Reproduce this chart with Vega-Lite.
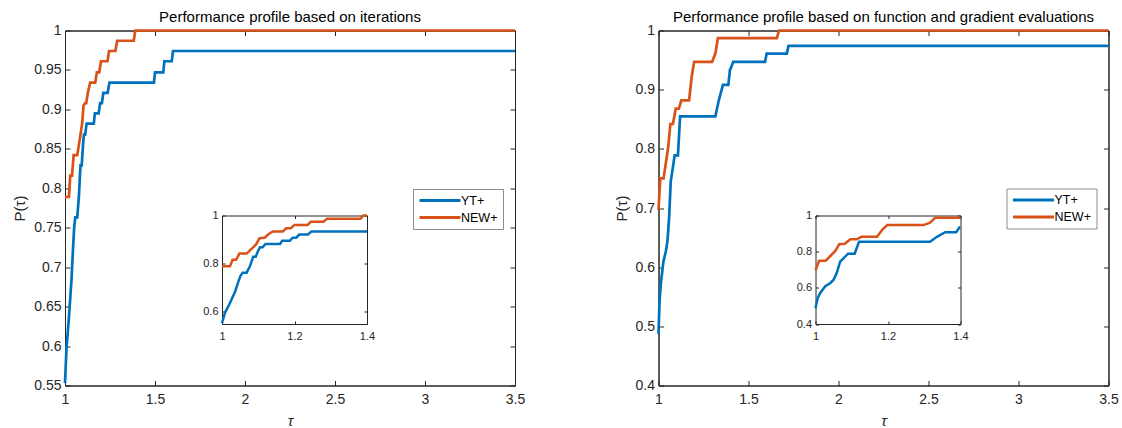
{
  "$schema": "https://vega.github.io/schema/vega-lite/v6.json",
  "padding": {"left": 12, "top": 8.5, "right": 5, "bottom": 2},
  "background": "white",
  "config": {
    "font": "Liberation Sans",
    "view": {"stroke": "#262626", "strokeWidth": 1},
    "axis": {"grid": false, "labelFont": "Liberation Sans", "labelFontSize": 14, "labelColor": "#262626", "domainColor": "#262626", "tickColor": "#262626", "tickSize": -5, "titleFontSize": 15, "titleFontWeight": "normal", "titleColor": "#262626", "labelFlush": false, "labelOverlap": false},
    "title": {"fontSize": 15, "fontWeight": "normal", "color": "#000000", "offset": -1, "font": "Liberation Sans"},
    "legend": {"symbolType": "M-1,0H7.2", "symbolStrokeWidth": 3, "symbolSize": 100, "labelFontSize": 12.5, "labelColor": "#000000", "strokeColor": "#8c8c8c", "fillColor": "#ffffff", "padding": 5, "rowPadding": 4, "labelOffset": 30, "cornerRadius": 0}
  },
  "datasets": {
    "iter": [
      {"solver": "YT+", "tau": 1.000, "p": 0.553},
      {"solver": "YT+", "tau": 1.008, "p": 0.596},
      {"solver": "YT+", "tau": 1.022, "p": 0.637},
      {"solver": "YT+", "tau": 1.036, "p": 0.684},
      {"solver": "YT+", "tau": 1.045, "p": 0.725},
      {"solver": "YT+", "tau": 1.051, "p": 0.750},
      {"solver": "YT+", "tau": 1.057, "p": 0.763},
      {"solver": "YT+", "tau": 1.068, "p": 0.763},
      {"solver": "YT+", "tau": 1.077, "p": 0.789},
      {"solver": "YT+", "tau": 1.086, "p": 0.829},
      {"solver": "YT+", "tau": 1.093, "p": 0.829},
      {"solver": "YT+", "tau": 1.100, "p": 0.855},
      {"solver": "YT+", "tau": 1.105, "p": 0.868},
      {"solver": "YT+", "tau": 1.112, "p": 0.868},
      {"solver": "YT+", "tau": 1.120, "p": 0.882},
      {"solver": "YT+", "tau": 1.160, "p": 0.882},
      {"solver": "YT+", "tau": 1.166, "p": 0.895},
      {"solver": "YT+", "tau": 1.187, "p": 0.895},
      {"solver": "YT+", "tau": 1.195, "p": 0.908},
      {"solver": "YT+", "tau": 1.205, "p": 0.908},
      {"solver": "YT+", "tau": 1.213, "p": 0.921},
      {"solver": "YT+", "tau": 1.237, "p": 0.921},
      {"solver": "YT+", "tau": 1.247, "p": 0.934},
      {"solver": "YT+", "tau": 1.400, "p": 0.934},
      {"solver": "YT+", "tau": 1.494, "p": 0.934},
      {"solver": "YT+", "tau": 1.500, "p": 0.947},
      {"solver": "YT+", "tau": 1.546, "p": 0.947},
      {"solver": "YT+", "tau": 1.552, "p": 0.961},
      {"solver": "YT+", "tau": 1.593, "p": 0.961},
      {"solver": "YT+", "tau": 1.600, "p": 0.974},
      {"solver": "YT+", "tau": 3.500, "p": 0.974},
      {"solver": "NEW+", "tau": 1.000, "p": 0.789},
      {"solver": "NEW+", "tau": 1.022, "p": 0.789},
      {"solver": "NEW+", "tau": 1.029, "p": 0.816},
      {"solver": "NEW+", "tau": 1.039, "p": 0.816},
      {"solver": "NEW+", "tau": 1.048, "p": 0.842},
      {"solver": "NEW+", "tau": 1.068, "p": 0.842},
      {"solver": "NEW+", "tau": 1.077, "p": 0.855},
      {"solver": "NEW+", "tau": 1.086, "p": 0.868},
      {"solver": "NEW+", "tau": 1.095, "p": 0.882},
      {"solver": "NEW+", "tau": 1.103, "p": 0.905},
      {"solver": "NEW+", "tau": 1.112, "p": 0.908},
      {"solver": "NEW+", "tau": 1.118, "p": 0.908},
      {"solver": "NEW+", "tau": 1.127, "p": 0.921},
      {"solver": "NEW+", "tau": 1.140, "p": 0.934},
      {"solver": "NEW+", "tau": 1.168, "p": 0.934},
      {"solver": "NEW+", "tau": 1.177, "p": 0.947},
      {"solver": "NEW+", "tau": 1.190, "p": 0.947},
      {"solver": "NEW+", "tau": 1.200, "p": 0.961},
      {"solver": "NEW+", "tau": 1.236, "p": 0.961},
      {"solver": "NEW+", "tau": 1.245, "p": 0.974},
      {"solver": "NEW+", "tau": 1.280, "p": 0.974},
      {"solver": "NEW+", "tau": 1.290, "p": 0.987},
      {"solver": "NEW+", "tau": 1.382, "p": 0.987},
      {"solver": "NEW+", "tau": 1.390, "p": 1.000},
      {"solver": "NEW+", "tau": 1.400, "p": 1.000},
      {"solver": "NEW+", "tau": 3.500, "p": 1.000}
    ],
    "feval": [
      {"solver": "YT+", "tau": 1.000, "p": 0.487},
      {"solver": "YT+", "tau": 1.006, "p": 0.544},
      {"solver": "YT+", "tau": 1.013, "p": 0.572},
      {"solver": "YT+", "tau": 1.027, "p": 0.609},
      {"solver": "YT+", "tau": 1.041, "p": 0.627},
      {"solver": "YT+", "tau": 1.050, "p": 0.645},
      {"solver": "YT+", "tau": 1.059, "p": 0.684},
      {"solver": "YT+", "tau": 1.068, "p": 0.745},
      {"solver": "YT+", "tau": 1.077, "p": 0.763},
      {"solver": "YT+", "tau": 1.090, "p": 0.789},
      {"solver": "YT+", "tau": 1.108, "p": 0.789},
      {"solver": "YT+", "tau": 1.120, "p": 0.855},
      {"solver": "YT+", "tau": 1.316, "p": 0.855},
      {"solver": "YT+", "tau": 1.335, "p": 0.882},
      {"solver": "YT+", "tau": 1.358, "p": 0.908},
      {"solver": "YT+", "tau": 1.388, "p": 0.908},
      {"solver": "YT+", "tau": 1.397, "p": 0.934},
      {"solver": "YT+", "tau": 1.400, "p": 0.935},
      {"solver": "YT+", "tau": 1.415, "p": 0.947},
      {"solver": "YT+", "tau": 1.592, "p": 0.947},
      {"solver": "YT+", "tau": 1.601, "p": 0.961},
      {"solver": "YT+", "tau": 1.713, "p": 0.961},
      {"solver": "YT+", "tau": 1.722, "p": 0.974},
      {"solver": "YT+", "tau": 3.500, "p": 0.974},
      {"solver": "NEW+", "tau": 1.000, "p": 0.697},
      {"solver": "NEW+", "tau": 1.010, "p": 0.750},
      {"solver": "NEW+", "tau": 1.028, "p": 0.750},
      {"solver": "NEW+", "tau": 1.041, "p": 0.776},
      {"solver": "NEW+", "tau": 1.054, "p": 0.803},
      {"solver": "NEW+", "tau": 1.066, "p": 0.842},
      {"solver": "NEW+", "tau": 1.080, "p": 0.842},
      {"solver": "NEW+", "tau": 1.096, "p": 0.868},
      {"solver": "NEW+", "tau": 1.113, "p": 0.868},
      {"solver": "NEW+", "tau": 1.127, "p": 0.882},
      {"solver": "NEW+", "tau": 1.170, "p": 0.882},
      {"solver": "NEW+", "tau": 1.184, "p": 0.921},
      {"solver": "NEW+", "tau": 1.198, "p": 0.947},
      {"solver": "NEW+", "tau": 1.298, "p": 0.947},
      {"solver": "NEW+", "tau": 1.316, "p": 0.961},
      {"solver": "NEW+", "tau": 1.330, "p": 0.987},
      {"solver": "NEW+", "tau": 1.400, "p": 0.987},
      {"solver": "NEW+", "tau": 1.657, "p": 0.987},
      {"solver": "NEW+", "tau": 1.670, "p": 1.000},
      {"solver": "NEW+", "tau": 3.500, "p": 1.000}
    ]
  },
  "bounds": "flush",
  "spacing": 143.5,
  "resolve": {"scale": {"color": "independent"}},
  "hconcat": [
    {
      "width": 450,
      "height": 355,
      "title": "Performance profile based on iterations",
      "data": {"name": "iter"},
      "resolve": {"scale": {"x": "independent", "y": "independent"}, "axis": {"x": "independent", "y": "independent"}},
      "layer": [
        {
          "mark": {"type": "line", "strokeWidth": 2.7},
          "encoding": {
            "x": {"field": "tau", "type": "quantitative", "scale": {"domain": [1, 3.5], "nice": false, "zero": false}, "axis": {"orient": "bottom", "values": [1, 1.5, 2, 2.5, 3, 3.5], "format": ".1~f", "title": "τ", "titleFontStyle": "italic", "labelPadding": 12, "titlePadding": 7}},
            "y": {"field": "p", "type": "quantitative", "scale": {"domain": [0.55, 1], "nice": false, "zero": false}, "axis": {"orient": "left", "values": [0.55, 0.6, 0.65, 0.7, 0.75, 0.8, 0.85, 0.9, 0.95, 1], "format": ".2~f", "title": "P(τ)", "labelPadding": 9, "titlePadding": 6}},
            "color": {"field": "solver", "type": "nominal", "scale": {"domain": ["YT+", "NEW+"], "range": ["#0072BD", "#D95319"]}, "legend": {"orient": "none", "legendX": 348, "legendY": 158.5, "title": null}}
          }
        },
        {
          "mark": {"type": "point", "opacity": 0, "clip": true},
          "encoding": {
            "x": {"field": "tau", "type": "quantitative", "scale": {"domain": [1, 3.5], "nice": false, "zero": false}, "axis": {"orient": "top", "values": [1, 1.5, 2, 2.5, 3, 3.5], "labels": false, "title": null}},
            "y": {"field": "p", "type": "quantitative", "scale": {"domain": [0.55, 1], "nice": false, "zero": false}, "axis": {"orient": "right", "values": [0.55, 0.6, 0.65, 0.7, 0.75, 0.8, 0.85, 0.9, 0.95, 1], "labels": false, "title": null}}
          }
        },
        {
          "transform": [{"filter": "datum.tau <= 1.4"}],
          "mark": {"type": "line", "strokeWidth": 2.5},
          "encoding": {
            "x": {"field": "tau", "type": "quantitative", "scale": {"domain": [1, 1.4], "nice": false, "zero": false, "range": [157, 302]}, "axis": {"orient": "bottom", "offset": -61.5, "values": [1, 1.2, 1.4], "format": ".1~f", "title": null, "labelFontSize": 11, "tickSize": -3, "labelPadding": 9}},
            "y": {"field": "p", "type": "quantitative", "scale": {"domain": [0.55, 1], "nice": false, "zero": false, "range": [293.5, 185]}, "axis": {"orient": "left", "offset": -157, "values": [0.6, 0.8, 1], "format": ".1~f", "title": null, "labelFontSize": 11, "tickSize": -3, "labelPadding": 7}},
            "color": {"field": "solver", "type": "nominal", "scale": {"domain": ["YT+", "NEW+"], "range": ["#0072BD", "#D95319"]}, "legend": {"orient": "none", "legendX": 348, "legendY": 158.5, "title": null}}
          }
        },
        {
          "transform": [{"filter": "datum.tau <= 1.4"}],
          "mark": {"type": "point", "opacity": 0},
          "encoding": {
            "x": {"field": "tau", "type": "quantitative", "scale": {"domain": [1, 1.4], "nice": false, "zero": false, "range": [157, 302]}, "axis": {"orient": "top", "offset": -185, "values": [1, 1.2, 1.4], "labels": false, "title": null, "tickSize": -3}},
            "y": {"field": "p", "type": "quantitative", "scale": {"domain": [0.55, 1], "nice": false, "zero": false, "range": [293.5, 185]}, "axis": {"orient": "right", "offset": -148, "values": [0.6, 0.8, 1], "labels": false, "title": null, "tickSize": -3}}
          }
        }
      ]
    },
    {
      "width": 450,
      "height": 355,
      "title": "Performance profile based on function and gradient evaluations",
      "data": {"name": "feval"},
      "resolve": {"scale": {"x": "independent", "y": "independent"}, "axis": {"x": "independent", "y": "independent"}},
      "layer": [
        {
          "mark": {"type": "line", "strokeWidth": 2.7},
          "encoding": {
            "x": {"field": "tau", "type": "quantitative", "scale": {"domain": [1, 3.5], "nice": false, "zero": false}, "axis": {"orient": "bottom", "values": [1, 1.5, 2, 2.5, 3, 3.5], "format": ".1~f", "title": "τ", "titleFontStyle": "italic", "labelPadding": 12, "titlePadding": 7}},
            "y": {"field": "p", "type": "quantitative", "scale": {"domain": [0.4, 1], "nice": false, "zero": false}, "axis": {"orient": "left", "values": [0.4, 0.5, 0.6, 0.7, 0.8, 0.9, 1], "format": ".1~f", "title": "P(τ)", "labelPadding": 9, "titlePadding": 6}},
            "color": {"field": "solver", "type": "nominal", "scale": {"domain": ["YT+", "NEW+"], "range": ["#0072BD", "#D95319"]}, "legend": {"orient": "none", "legendX": 348, "legendY": 158, "title": null}}
          }
        },
        {
          "mark": {"type": "point", "opacity": 0, "clip": true},
          "encoding": {
            "x": {"field": "tau", "type": "quantitative", "scale": {"domain": [1, 3.5], "nice": false, "zero": false}, "axis": {"orient": "top", "values": [1, 1.5, 2, 2.5, 3, 3.5], "labels": false, "title": null}},
            "y": {"field": "p", "type": "quantitative", "scale": {"domain": [0.4, 1], "nice": false, "zero": false}, "axis": {"orient": "right", "values": [0.4, 0.5, 0.6, 0.7, 0.8, 0.9, 1], "labels": false, "title": null}}
          }
        },
        {
          "transform": [{"filter": "datum.tau <= 1.4"}],
          "mark": {"type": "line", "strokeWidth": 2.5},
          "encoding": {
            "x": {"field": "tau", "type": "quantitative", "scale": {"domain": [1, 1.4], "nice": false, "zero": false, "range": [157, 302]}, "axis": {"orient": "bottom", "offset": -61.5, "values": [1, 1.2, 1.4], "format": ".1~f", "title": null, "labelFontSize": 11, "tickSize": -3, "labelPadding": 9}},
            "y": {"field": "p", "type": "quantitative", "scale": {"domain": [0.4, 1], "nice": false, "zero": false, "range": [293.5, 185]}, "axis": {"orient": "left", "offset": -157, "values": [0.4, 0.6, 0.8, 1], "format": ".1~f", "title": null, "labelFontSize": 11, "tickSize": -3, "labelPadding": 7}},
            "color": {"field": "solver", "type": "nominal", "scale": {"domain": ["YT+", "NEW+"], "range": ["#0072BD", "#D95319"]}, "legend": {"orient": "none", "legendX": 348, "legendY": 158, "title": null}}
          }
        },
        {
          "transform": [{"filter": "datum.tau <= 1.4"}],
          "mark": {"type": "point", "opacity": 0},
          "encoding": {
            "x": {"field": "tau", "type": "quantitative", "scale": {"domain": [1, 1.4], "nice": false, "zero": false, "range": [157, 302]}, "axis": {"orient": "top", "offset": -185, "values": [1, 1.2, 1.4], "labels": false, "title": null, "tickSize": -3}},
            "y": {"field": "p", "type": "quantitative", "scale": {"domain": [0.4, 1], "nice": false, "zero": false, "range": [293.5, 185]}, "axis": {"orient": "right", "offset": -148, "values": [0.4, 0.6, 0.8, 1], "labels": false, "title": null, "tickSize": -3}}
          }
        }
      ]
    }
  ]
}
